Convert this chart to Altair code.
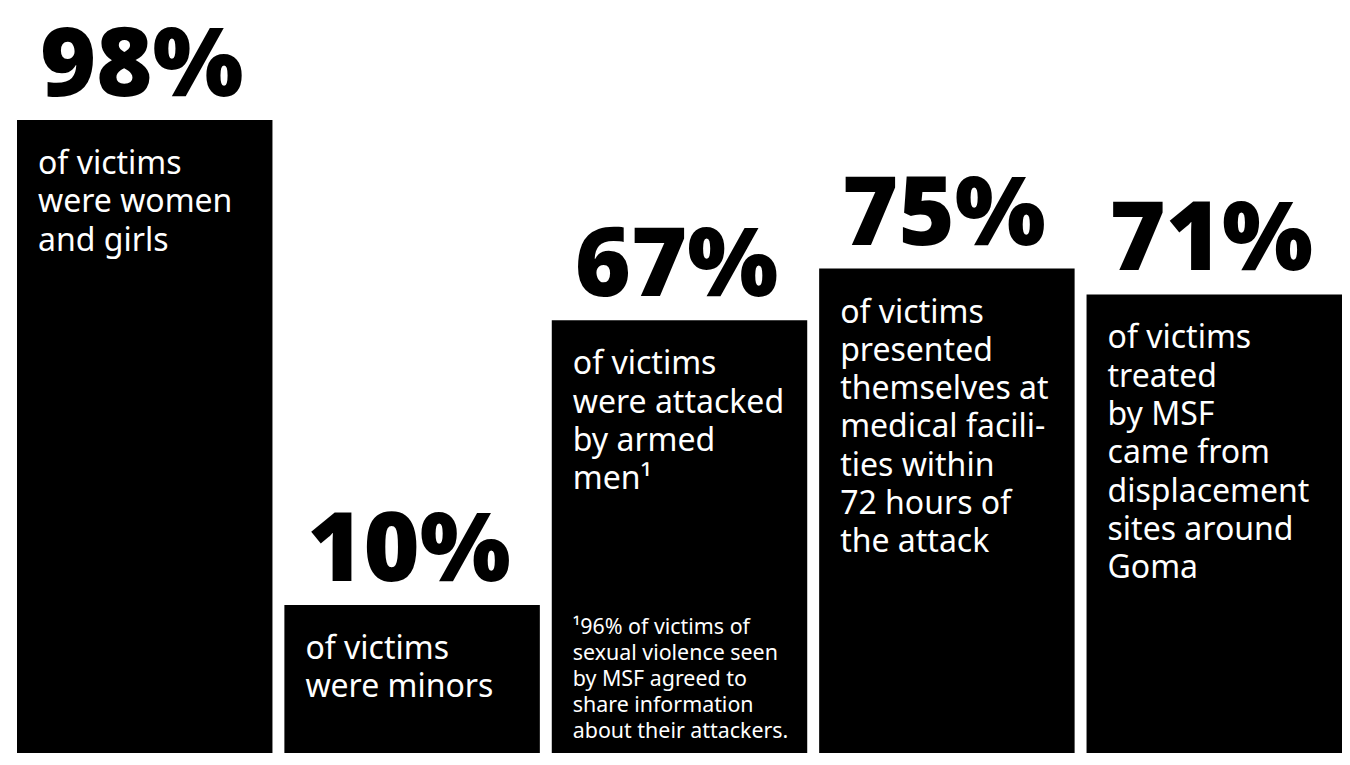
import altair as alt
import pandas as pd

# Data
categories = ["women_girls", "minors", "armed_men", "within_72h", "displacement"]
percent_values = [98, 10, 67, 75, 71]
percent_labels = ["98%", "10%", "67%", "75%", "71%"]
# Bar heights as drawn (the 10% bar is drawn taller than its value to hold its text)
bar_heights = [98, 22.9, 67, 75, 71]
descriptions = [
    "of victims\nwere women\nand girls",
    "of victims\nwere minors",
    "of victims\nwere attacked\nby armed\nmen\u00b9",
    "of victims\npresented\nthemselves at\nmedical facili-\nties within\n72 hours of\nthe attack",
    "of victims\ntreated\nby MSF\ncame from\ndisplacement\nsites around\nGoma",
]
footnotes = [
    "",
    "",
    "\u00b996% of victims of\nsexual violence seen\nby MSF agreed to\nshare information\nabout their attackers.",
    "",
    "",
]

df = pd.DataFrame({
    "cat": categories,
    "value": percent_values,
    "label": percent_labels,
    "height": bar_heights,
    "desc": descriptions,
    "note": footnotes,
})

FONT = "Noto Sans"

x_scale = alt.Scale(domain=categories, paddingInner=0.0446, paddingOuter=0.01683, align=1)
y_scale = alt.Scale(domain=[0, 115.34], nice=False, zero=True)

base = alt.Chart(df)

bars = base.mark_bar(color="#000000", cornerRadius=0).encode(
    x=alt.X("cat:N", scale=x_scale, axis=None, sort=categories),
    y=alt.Y("height:Q", scale=y_scale, axis=None),
)

big = base.mark_text(
    font=FONT, fontSize=96, fontWeight=900, color="#000000",
    align="center", baseline="alphabetic", dy=-24, dx=-3,
).encode(
    x=alt.X("cat:N", scale=x_scale, axis=None, sort=categories),
    y=alt.Y("height:Q", scale=y_scale, axis=None),
    text="label:N",
)

body = base.mark_text(
    font=FONT, fontSize=32, fontWeight=400, color="#ffffff",
    align="left", baseline="alphabetic", dx=21, dy=54, lineBreak="\n", lineHeight=38.3,
).encode(
    x=alt.X("cat:N", scale=x_scale, axis=None, sort=categories, bandPosition=0),
    y=alt.Y("height:Q", scale=y_scale, axis=None),
    text="desc:N",
)

notes = base.transform_filter(alt.datum.note != "").mark_text(
    font=FONT, fontSize=21.4, fontWeight=400, color="#ffffff",
    align="left", baseline="alphabetic", dx=21, dy=-118.7, lineBreak="\n", lineHeight=25.85,
).encode(
    x=alt.X("cat:N", scale=x_scale, axis=None, sort=categories, bandPosition=0),
    y=alt.datum(0, scale=y_scale),
    text="note:N",
)

chart = alt.layer(bars, big, body, notes).properties(
    width=1334, height=745,
    autosize=alt.AutoSizeParams(type="none"),
    padding=0,
).configure_view(stroke=None)

chart.save("out.html", embed_options={"renderer": "svg", "actions": False})
